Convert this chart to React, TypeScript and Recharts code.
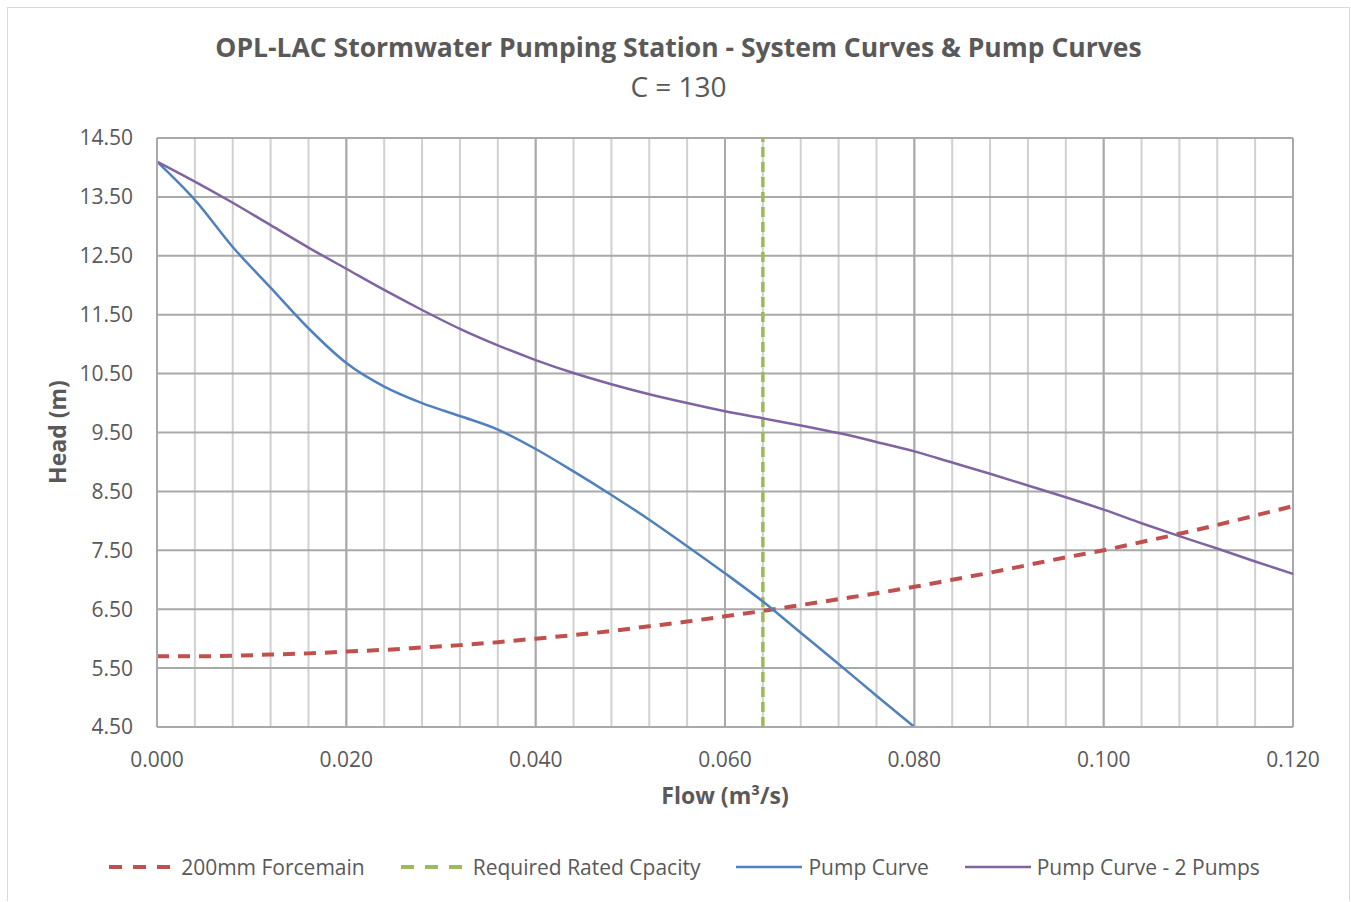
import React from "react";
import { LineChart, Line, XAxis, YAxis, CartesianGrid, ReferenceLine, Legend } from "recharts";

// flow steps (m3/s) — minor grid every 0.004
const FLOW = [
  0, 0.004, 0.008, 0.012, 0.016, 0.02, 0.024, 0.028, 0.032, 0.036, 0.04,
  0.044, 0.048, 0.052, 0.056, 0.06, 0.064, 0.068, 0.072, 0.076, 0.08,
  0.084, 0.088, 0.092, 0.096, 0.1, 0.104, 0.108, 0.112, 0.116, 0.12,
];
const MAJOR_FLOW = [0, 0.02, 0.04, 0.06, 0.08, 0.1, 0.12];
const HEAD_TICKS = [4.5, 5.5, 6.5, 7.5, 8.5, 9.5, 10.5, 11.5, 12.5, 13.5, 14.5];

const FORCEMAIN = [
  5.7, 5.7, 5.71, 5.73, 5.75, 5.78, 5.81, 5.85, 5.89, 5.94, 6.0,
  6.06, 6.13, 6.21, 6.29, 6.38, 6.47, 6.57, 6.67, 6.77, 6.88,
  7.0, 7.12, 7.25, 7.38, 7.5, 7.64, 7.78, 7.93, 8.09, 8.25,
];
// single pump, stops at 0.080
const PUMP = [
  14.1, 13.45, 12.65, 11.96, 11.27, 10.68, 10.28, 10.0, 9.78, 9.55, 9.22,
  8.84, 8.44, 8.02, 7.57, 7.11, 6.63, 6.1, 5.57, 5.03, 4.5,
];
const PUMP_2 = [
  14.1, 13.76, 13.4, 13.02, 12.64, 12.28, 11.92, 11.58, 11.26, 10.98, 10.73,
  10.51, 10.32, 10.15, 10.0, 9.86, 9.74, 9.62, 9.49, 9.34, 9.18,
  8.99, 8.8, 8.6, 8.4, 8.19, 7.96, 7.74, 7.53, 7.31, 7.1,
];
const RATED_FLOW = 0.064;

const TEXT = "#595959";
const FONT = "'Open Sans', sans-serif";

const SERIES = [
  { key: "forcemain", name: "200mm Forcemain", color: "#C0504D", dash: true },
  { key: "rated", name: "Required Rated Cpacity", color: "#9BBB59", dash: true },
  { key: "pump", name: "Pump Curve", color: "#4F81BD", dash: false },
  { key: "pump2", name: "Pump Curve - 2 Pumps", color: "#8064A2", dash: false },
];

const rows = FLOW.map((q, i) => ({
  q,
  forcemain: FORCEMAIN[i],
  pump: i < PUMP.length ? PUMP[i] : null,
  pump2: PUMP_2[i],
}));
const ratedRows = [
  { q: RATED_FLOW, rated: HEAD_TICKS[0] },
  { q: RATED_FLOW, rated: HEAD_TICKS[HEAD_TICKS.length - 1] },
];

function LegendBox() {
  return (
    <div style={{ display: "flex", justifyContent: "center", alignItems: "center", fontFamily: FONT, fontSize: 21, color: TEXT, marginLeft: 10 }}>
      {SERIES.map((s, i) => (
        <div key={s.key} style={{ display: "flex", alignItems: "center", marginLeft: i ? 34 : 0 }}>
          <svg width={70} height={10}>
            <line x1={2} y1={5} x2={68} y2={5} stroke={s.color} strokeWidth={s.dash ? 4 : 2.5} strokeDasharray={s.dash ? "13 11" : undefined} />
          </svg>
          <span style={{ marginLeft: 4 }}>{s.name}</span>
        </div>
      ))}
    </div>
  );
}

export default function App() {
  return (
    <div style={{ position: "absolute", left: 7, top: 7, width: 1341, height: 893, border: "1px solid #d9d9d9", borderBottom: "none", background: "#fff", fontFamily: FONT }}>
      <div style={{ position: "absolute", left: 0, width: 1341, top: 21, textAlign: "center", fontSize: 26.5, fontWeight: 700, color: TEXT }}>
        OPL-LAC Stormwater Pumping Station - System Curves &amp; Pump Curves
      </div>
      <div style={{ position: "absolute", left: 0, width: 1341, top: 59, textAlign: "center", fontSize: 28, color: TEXT }}>
        C = 130
      </div>
      <div style={{ position: "absolute", left: 49 - 70, top: 424 - 17, width: 140, textAlign: "center", transform: "rotate(-90deg)", fontSize: 23, fontWeight: 700, color: TEXT, lineHeight: "34px" }}>
        Head (m)
      </div>
      <div style={{ position: "absolute", left: 149, width: 1136, top: 771, textAlign: "center", fontSize: 23, fontWeight: 700, color: TEXT }}>
        Flow (m³/s)
      </div>
      <LineChart width={1341} height={893} data={rows} margin={{ top: 130, right: 56, left: 0, bottom: 124 }}>
        <CartesianGrid horizontal={false} stroke="#d0d0d0" strokeWidth={2} />
        <CartesianGrid vertical={false} stroke="#a9a9a9" strokeWidth={2} />
        {MAJOR_FLOW.map((v) => (
          <ReferenceLine key={v} x={v} stroke="#a9a9a9" strokeWidth={2} />
        ))}
        <XAxis
          dataKey="q"
          type="number"
          domain={[0, 0.12]}
          ticks={FLOW}
          interval={0}
          height={50}
          tickLine={false}
          tickSize={6}
          tickMargin={19}
          axisLine={{ stroke: "#a9a9a9", strokeWidth: 2 }}
          tick={{ fill: TEXT, fontSize: 21, fontFamily: FONT }}
          tickFormatter={(v: number) => (MAJOR_FLOW.some((m) => Math.abs(m - v) < 1e-9) ? v.toFixed(3) : "")}
        />
        <YAxis
          type="number"
          domain={[4.5, 14.5]}
          ticks={HEAD_TICKS}
          interval={0}
          width={149}
          tickLine={false}
          tickSize={6}
          tickMargin={18}
          axisLine={{ stroke: "#a9a9a9", strokeWidth: 2 }}
          tick={{ fill: TEXT, fontSize: 21, fontFamily: FONT }}
          tickFormatter={(v: number) => v.toFixed(2)}
          allowDataOverflow
        />
        <Legend
          layout="horizontal"
          verticalAlign="middle"
          align="center"
          content={() => <LegendBox />}
          wrapperStyle={{ position: "absolute", top: 845, left: 0, width: 1341 }}
        />
        <Line dataKey="forcemain" name="200mm Forcemain" type="monotone" stroke="#C0504D" strokeWidth={4} strokeDasharray="12 9" dot={false} isAnimationActive={false} />
        <Line data={ratedRows} dataKey="rated" name="Required Rated Cpacity" type="linear" stroke="#9BBB59" strokeWidth={3.5} strokeDasharray="10 5" dot={false} isAnimationActive={false} />
        <Line dataKey="pump" name="Pump Curve" type="monotone" stroke="#4F81BD" strokeWidth={2.5} dot={false} isAnimationActive={false} />
        <Line dataKey="pump2" name="Pump Curve - 2 Pumps" type="monotone" stroke="#8064A2" strokeWidth={2.5} dot={false} isAnimationActive={false} />
      </LineChart>
    </div>
  );
}
